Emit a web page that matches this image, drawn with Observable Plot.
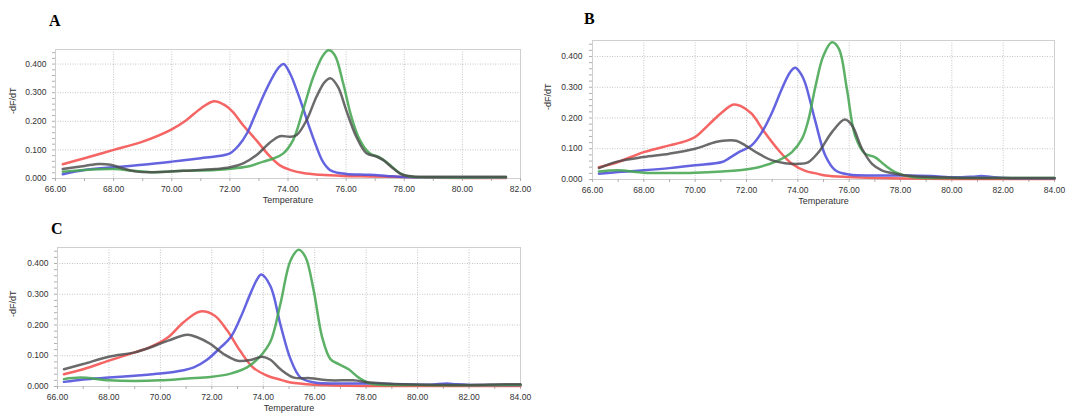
<!DOCTYPE html>
<html><head><meta charset="utf-8">
<script src="https://cdn.jsdelivr.net/npm/d3@7"></script>
<script src="https://cdn.jsdelivr.net/npm/@observablehq/plot@0.6"></script>
<style>
body{margin:0;background:#fff;}
#wrap{position:relative;width:1075px;height:416px;overflow:hidden;background:#fff;}
.panel{position:absolute;}
.letter{position:absolute;font-family:"Liberation Serif","Times New Roman",serif;font-weight:bold;font-size:16px;line-height:16px;color:#000;}
</style></head><body><div id="wrap"></div>
<script>
// ---------- Panel labels & axes ----------
const panelLetters = ["A", "B", "C"];
const xTitle = "Temperature";
const yTitle = "-dF/dT";
const yTicks = [0, 0.1, 0.2, 0.3, 0.4];
const xTicksA = [66, 68, 70, 72, 74, 76, 78, 80, 82];
const xTicksBC = [66, 68, 70, 72, 74, 76, 78, 80, 82, 84];
const seriesNames = ["red", "blue", "green", "black"];

// ---------- Panel A ----------
const A_red_t = [66.25,67,68,69,70,70.5,71,71.45,71.8,72.1,72.45,72.9,73.37,73.72,74.07,74.52,75.1,75.9,76.8,77.95,79,80.2,81.5];
const A_red_v = [0.050,0.071,0.100,0.129,0.172,0.204,0.245,0.270,0.258,0.233,0.187,0.135,0.078,0.046,0.030,0.019,0.013,0.009,0.007,0.005,0.003,0.002,0.002];
const A_blue_t = [66.25,67,68,69,70,71,71.5,72,72.3,72.6,72.9,73.2,73.5,73.7,73.85,74.07,74.3,74.52,74.75,74.98,75.2,75.44,75.7,76,76.8,77.4,78,79,81.5];
const A_blue_v = [0.015,0.030,0.039,0.048,0.059,0.071,0.077,0.088,0.115,0.160,0.230,0.300,0.360,0.390,0.400,0.367,0.309,0.245,0.175,0.111,0.059,0.030,0.020,0.016,0.013,0.009,0.005,0.004,0.004];
const A_green_t = [66.25,67,68,68.7,69.3,70.4,71.5,72.2,72.7,73.15,73.5,73.84,74.18,74.52,74.87,75.21,75.4,75.61,75.9,76.18,76.47,76.81,77.15,77.5,77.84,78.18,79,81.5];
const A_green_v = [0.024,0.030,0.033,0.027,0.022,0.027,0.030,0.036,0.044,0.059,0.070,0.088,0.135,0.240,0.355,0.431,0.448,0.431,0.332,0.216,0.135,0.088,0.074,0.048,0.019,0.007,0.004,0.004];
const A_black_t = [66.25,67,67.5,67.9,68.3,68.8,69.3,70.4,71.5,72,72.46,72.92,73.37,73.72,74.07,74.3,74.64,74.98,75.27,75.47,75.72,76,76.35,76.7,77.04,77.27,77.61,77.95,78.3,79,81.5];
const A_black_v = [0.033,0.044,0.051,0.048,0.036,0.024,0.022,0.027,0.033,0.039,0.053,0.082,0.125,0.148,0.146,0.152,0.204,0.286,0.338,0.350,0.320,0.240,0.146,0.088,0.077,0.065,0.036,0.013,0.007,0.006,0.006];

// ---------- Panel B ----------
const B_red_t = [66.25,67,68,69,69.6,70,70.5,71.05,71.5,71.8,72.2,72.7,73.25,73.77,74.29,74.7,75.07,76,77,78.2,80,84];
const B_red_v = [0.040,0.057,0.089,0.111,0.124,0.138,0.176,0.219,0.244,0.238,0.214,0.154,0.095,0.051,0.028,0.020,0.013,0.008,0.005,0.003,0.002,0.002];
const B_blue_t = [66.25,67,68,69,70,71.05,71.3,71.7,72.2,72.6,73,73.38,73.7,73.9,74.16,74.3,74.68,75.07,75.46,76,77,78.2,79.2,80.1,80.8,81.15,81.55,82.1,84];
const B_blue_v = [0.019,0.024,0.030,0.037,0.046,0.057,0.068,0.089,0.111,0.154,0.219,0.295,0.349,0.363,0.338,0.310,0.190,0.078,0.030,0.016,0.013,0.013,0.011,0.007,0.009,0.011,0.008,0.005,0.004];
const B_green_t = [66.25,67,68,69,70,71.05,71.7,72.47,73.25,73.77,74.16,74.4,74.68,75,75.33,75.6,75.91,76.23,76.62,77,77.4,77.79,78.44,80,84];
const B_green_v = [0.026,0.030,0.022,0.021,0.022,0.026,0.030,0.040,0.062,0.089,0.132,0.190,0.300,0.403,0.446,0.425,0.295,0.143,0.084,0.073,0.046,0.024,0.008,0.005,0.005];
const B_black_t = [66.25,67,68,69,70,70.8,71.2,71.6,71.95,72.47,73,73.5,74.03,74.4,74.81,75.33,75.83,76.11,76.5,76.89,77.27,77.79,78.44,80,84];
const B_black_v = [0.037,0.059,0.073,0.084,0.100,0.122,0.127,0.126,0.111,0.084,0.062,0.053,0.051,0.056,0.089,0.154,0.195,0.176,0.100,0.051,0.030,0.019,0.011,0.006,0.005];

// ---------- Panel C ----------
const C_red_t = [66.25,67,68,69,69.6,70.3,70.9,71.55,72.1,72.6,73.1,73.6,74.16,74.67,75.06,76,78,84];
const C_red_v = [0.040,0.056,0.084,0.111,0.128,0.160,0.209,0.244,0.231,0.182,0.116,0.062,0.035,0.022,0.013,0.006,0.002,0.002];
const C_blue_t = [66.25,67,68,69,70,70.9,71.3,71.8,72.34,72.73,73.12,73.5,73.77,73.92,74.28,74.67,75.06,75.45,76,77,78.2,79.5,80.5,81.14,81.5,82.05,84];
const C_blue_v = [0.015,0.023,0.029,0.035,0.042,0.053,0.062,0.086,0.127,0.160,0.225,0.302,0.350,0.364,0.326,0.200,0.089,0.029,0.013,0.010,0.010,0.007,0.006,0.010,0.007,0.005,0.005];
const C_green_t = [66.25,66.9,68,69,70,71.05,71.95,72.73,73.37,73.9,74.28,74.67,75.06,75.38,75.64,75.96,76.29,76.61,76.93,77.32,77.71,78.16,80,84];
const C_green_v = [0.024,0.029,0.020,0.018,0.020,0.026,0.031,0.042,0.062,0.100,0.146,0.270,0.410,0.445,0.421,0.312,0.160,0.089,0.073,0.056,0.029,0.010,0.005,0.005];
const C_black_t = [66.25,67,68,69,69.6,70.3,71.05,71.43,71.95,72.47,73,73.5,73.95,74.28,74.67,75.19,75.83,76.6,77.5,78.16,79.45,82,83.35,84];
const C_black_v = [0.056,0.073,0.097,0.111,0.127,0.149,0.168,0.160,0.138,0.105,0.084,0.086,0.097,0.087,0.056,0.029,0.027,0.020,0.020,0.013,0.007,0.005,0.007,0.007];

const colors = {red: "#f2504f", blue: "#4f4fdc", green: "#45a652", black: "#4a4a4a"};

function series(t, v) { return t.map((x, i) => ({t: x, v: v[i]})); }

function makePanel(cfg) {
  const lineMarks = cfg.series.map(s => Plot.line(s.data, {
    x: "t", y: "v", stroke: colors[s.name], strokeWidth: 2.5,
    strokeOpacity: s.name === "black" ? 0.82 : 0.88, curve: "catmull-rom"
  }));
  const minorX = d3.range(cfg.xDomain[0], cfg.xDomain[1] + 0.01, 1);
  const minorY = d3.range(0, 0.451, 0.02);
  return Plot.plot({
    width: cfg.width, height: cfg.height,
    marginLeft: cfg.ml, marginRight: cfg.mr, marginTop: cfg.mt, marginBottom: cfg.mb,
    style: {fontFamily: "'Liberation Sans', Arial, sans-serif", fontSize: "8.5px", color: "#333", background: "#fff"},
    x: {domain: cfg.xDomain},
    y: {domain: [0, cfg.yMax]},
    marks: [
      Plot.gridX(cfg.xTicks, {stroke: "#c4c4c4", strokeOpacity: 1, strokeDasharray: "1,1.5"}),
      Plot.gridY(yTicks, {stroke: "#c4c4c4", strokeOpacity: 1, strokeDasharray: "1,1.5"}),
      Plot.frame({stroke: "#cfcfcf"}),
      Plot.axisX(minorX, {tickSize: 3, tickFormat: () => "", label: null, stroke: "#b0b0b0"}),
      Plot.axisY(minorY, {tickSize: 3, tickFormat: () => "", label: null, stroke: "#b0b0b0"}),
      Plot.axisX(cfg.xTicks, {tickSize: 0, tickPadding: 7, tickFormat: d => d.toFixed(2), label: null, fill: "#333"}),
      Plot.axisY(yTicks, {tickSize: 0, tickPadding: cfg.ypad, tickFormat: d => d.toFixed(3), label: null, fill: "#333"}),
      Plot.text([xTitle], {text: d => d, frameAnchor: "bottom", dy: 24, fontSize: 9, fill: "#333"}),
      Plot.text([yTitle], {text: d => d, frameAnchor: "left", dx: cfg.ydx, rotate: -90, fontSize: 9, fill: "#333"}),
      ...lineMarks
    ]
  });
}

const wrap = document.getElementById("wrap");
function place(node, left, top) {
  const d = document.createElement("div");
  d.className = "panel"; d.style.left = left + "px"; d.style.top = top + "px";
  d.appendChild(node); wrap.appendChild(d);
}
function letter(txt, left, top) {
  const d = document.createElement("div");
  d.className = "letter"; d.textContent = txt;
  d.style.left = left + "px"; d.style.top = top + "px";
  wrap.appendChild(d);
}

place(makePanel({
  width: 540, height: 180, ml: 55, mr: 20, mt: 19, mb: 32, ypad: 9, ydx: -42,
  xDomain: [66, 82], xTicks: xTicksA, yMax: 0.451,
  series: [
    {name: "red", data: series(A_red_t, A_red_v)},
    {name: "blue", data: series(A_blue_t, A_blue_v)},
    {name: "green", data: series(A_green_t, A_green_v)},
    {name: "black", data: series(A_black_t, A_black_v)}
  ]
}), 0, 30);

place(makePanel({
  width: 535, height: 190, ml: 52, mr: 21, mt: 20, mb: 31, ypad: 10, ydx: -44,
  xDomain: [66, 84], xTicks: xTicksBC, yMax: 0.452,
  series: [
    {name: "red", data: series(B_red_t, B_red_v)},
    {name: "blue", data: series(B_blue_t, B_blue_v)},
    {name: "green", data: series(B_green_t, B_green_v)},
    {name: "black", data: series(B_black_t, B_black_v)}
  ]
}), 540, 20);

place(makePanel({
  width: 540, height: 186, ml: 57, mr: 20, mt: 17, mb: 30, ypad: 9, ydx: -44,
  xDomain: [66, 84], xTicks: xTicksBC, yMax: 0.452,
  series: [
    {name: "red", data: series(C_red_t, C_red_v)},
    {name: "blue", data: series(C_blue_t, C_blue_v)},
    {name: "green", data: series(C_green_t, C_green_v)},
    {name: "black", data: series(C_black_t, C_black_v)}
  ]
}), 0, 230);

letter(panelLetters[0], 49, 13);
letter(panelLetters[1], 584, 11);
letter(panelLetters[2], 51, 221);
</script>
</body></html>
